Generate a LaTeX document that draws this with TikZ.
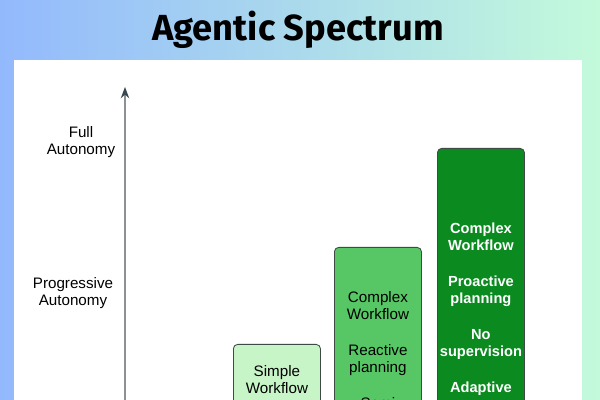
\documentclass[tikz,border=0pt]{standalone}
\usepackage{fontspec}
\setmainfont{Liberation Sans}
\newfontfamily\titlefont{Fira Sans}
\usetikzlibrary{arrows.meta,positioning}
\definecolor{bgblue}{HTML}{93B9FD}
\definecolor{bggreen}{HTML}{C3FADB}
\definecolor{lightgreen}{HTML}{C8F5C8}
\definecolor{midgreen}{HTML}{57C765}
\definecolor{darkgreen}{HTML}{0A8A1F}
\definecolor{edgegray}{HTML}{3E4A44}
\definecolor{axisgray}{HTML}{8C9196}
\definecolor{tipgray}{HTML}{37474F}
\tikzset{
  bar/.style={draw=edgegray, line width=0.6pt, rounded corners=3pt,
    anchor=north west, inner sep=0pt, minimum width=2.175cm, minimum height=7.5cm},
  level/.style={font=\fontsize{10.8}{12.1}\selectfont, align=center, inner sep=0pt},
  bartext/.style={level, anchor=north},
  darktext/.style={bartext, text=white, font=\fontsize{10.4}{12.1}\selectfont\bfseries}
}
\begin{document}
\begin{tikzpicture}[x=0.025cm, y=-0.025cm]
  \useasboundingbox (0,0) rectangle (600,400);
  \clip (0,0) rectangle (600,400);
  \shade[left color=bgblue, right color=bggreen] (0,0) rectangle (600,400);
  \fill[white] (14,60) rectangle (582,420);
  \node[font=\titlefont\fontsize{25.8}{30}\selectfont\bfseries, anchor=base] (title) at (298,41) {Agentic Spectrum};

  \coordinate (origin) at (125,420);
  \coordinate (top) at (125,87);
  \draw[axisgray, line width=1pt, -{Stealth[length=8pt, width=6pt, color=tipgray]}] (origin) -- (top);
  \node[level] (full) at (81,142) {Full\\Autonomy};
  \node[level] (progressive) at (73,293.5) {Progressive\\Autonomy};

  \node[bar, fill=lightgreen] (simple) at (233,344) {};
  \node[bar, fill=midgreen] (reactive) at (334,247) {};
  \node[bar, fill=darkgreen] (proactive) at (437,148) {};

  \node[bartext, below=0.525cm of simple.north] (simpletxt) {Simple\\Workflow};
  \node[bartext, below=1.1cm of reactive.north] (reactivetxt)
    {Complex\\Workflow\\[13.5pt]Reactive\\planning\\[13.5pt]Semi};
  \node[darktext, below=1.875cm of proactive.north] (proactivetxt)
    {Complex\\Workflow\\[13.5pt]Proactive\\planning\\[13.5pt]No\\supervision\\[13.5pt]Adaptive};
\end{tikzpicture}
\end{document}
